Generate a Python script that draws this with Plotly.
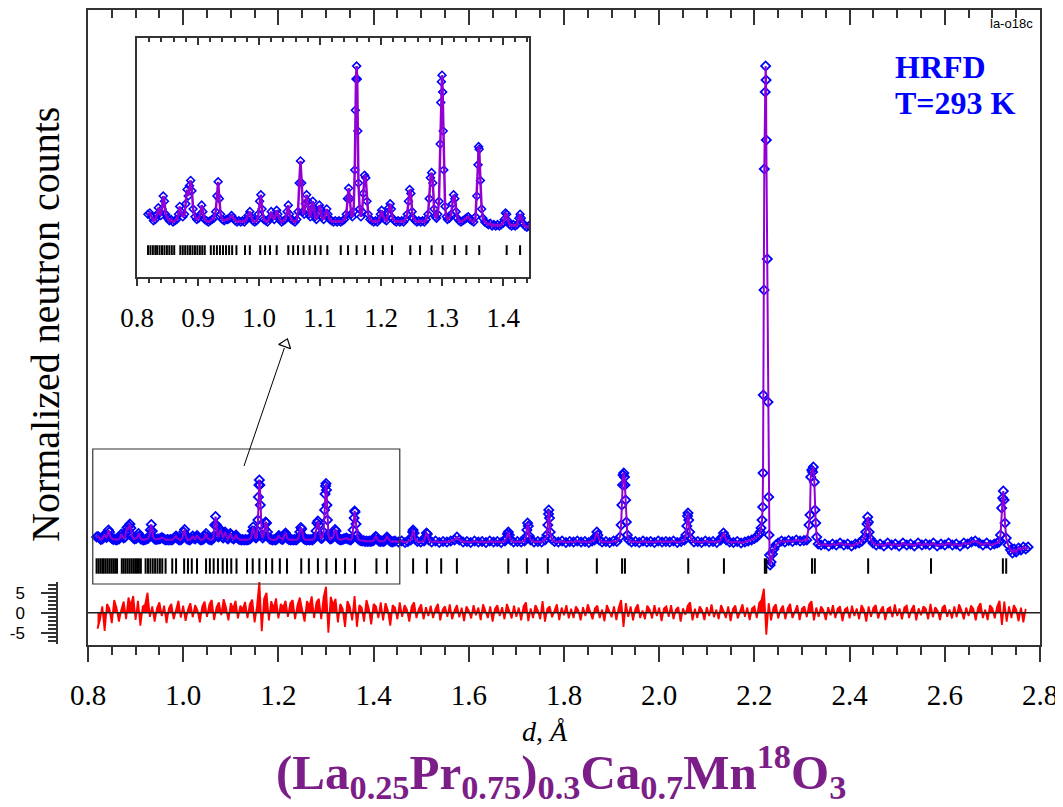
import plotly.graph_objects as go

W, H = 1063, 807
OFF = 8  # page body margin in the browser
def px(x): return (x - OFF) / W
def py(y): return 1 - (y - OFF) / H

# ---------------- data ----------------
# observed profile, low-d part: (d [Å], counts above background, arb. units)
obs_low = [(0.818,3.0),(0.821,3.5),(0.824,2.0),(0.827,0.5),(0.830,1.0),(0.833,3.0),(0.835,5.5),(0.837,3.5),(0.839,2.5),(0.841,5.0),(0.843,10.0),(0.845,8.0),(0.847,3.0),(0.850,1.5),(0.853,0.5),(0.856,1.0),(0.859,0.0),(0.862,0.5),(0.865,1.0),(0.868,3.0),(0.870,6.0),(0.872,4.0),(0.875,2.0),(0.878,3.0),(0.880,7.0),(0.882,12.5),(0.884,10.0),(0.886,14.0),(0.888,16.0),(0.890,12.0),(0.892,5.0),(0.895,2.0),(0.898,1.0),(0.901,1.5),(0.904,3.0),(0.906,6.5),(0.908,4.0),(0.911,1.0),(0.914,0.5),(0.917,0.0),(0.920,0.5),(0.923,1.0),(0.926,1.5),(0.929,4.0),(0.931,10.0),(0.933,15.5),(0.935,9.0),(0.937,3.0),(0.940,1.0),(0.943,0.5),(0.946,1.0),(0.949,1.0),(0.952,1.5),(0.955,2.5),(0.958,1.5),(0.961,0.5),(0.964,0.0),(0.967,0.5),(0.970,0.0),(0.973,0.5),(0.976,0.0),(0.979,1.0),(0.982,2.5),(0.985,4.0),(0.987,2.0),(0.990,0.5),(0.993,0.0),(0.996,0.5),(0.999,3.0),(1.001,8.0),(1.003,10.5),(1.005,5.0),(1.008,1.0),(1.011,0.5),(1.014,0.0),(1.017,1.5),(1.020,4.0),(1.022,2.0),(1.025,1.0),(1.027,2.5),(1.029,4.5),(1.031,3.0),(1.034,1.0),(1.037,0.0),(1.040,0.5),(1.043,1.0),(1.046,4.0),(1.048,6.5),(1.050,3.0),(1.053,1.0),(1.056,0.5),(1.059,0.0),(1.062,1.0),(1.064,4.0),(1.066,15.0),(1.068,23.5),(1.070,15.0),(1.072,4.0),(1.074,3.0),(1.076,7.0),(1.078,10.5),(1.080,8.0),(1.082,3.0),(1.084,2.0),(1.086,5.0),(1.088,8.0),(1.090,5.0),(1.092,2.0),(1.094,1.0),(1.097,3.0),(1.099,6.5),(1.101,5.0),(1.103,2.0),(1.106,1.0),(1.109,3.0),(1.111,5.0),(1.113,3.0),(1.116,1.0),(1.119,0.5),(1.122,0.0),(1.125,0.5),(1.128,0.0),(1.131,0.5),(1.134,0.0),(1.137,0.5),(1.140,1.0),(1.143,3.0),(1.145,9.0),(1.147,13.0),(1.149,9.0),(1.151,3.0),(1.153,2.0),(1.155,4.0),(1.157,20.0),(1.158,43.0),(1.159,55.0),(1.160,60.0),(1.161,55.0),(1.162,35.0),(1.163,15.0),(1.165,5.0),(1.167,2.0),(1.169,4.0),(1.171,11.0),(1.173,18.0),(1.175,17.0),(1.177,8.0),(1.179,3.0),(1.182,1.0),(1.185,0.5),(1.188,0.0),(1.191,0.5),(1.194,0.0),(1.197,1.0),(1.199,3.0),(1.201,4.5),(1.203,2.5),(1.206,1.0),(1.209,0.5),(1.211,3.0),(1.213,5.5),(1.215,7.0),(1.217,5.0),(1.219,1.5),(1.222,0.5),(1.225,0.0),(1.228,0.5),(1.231,0.0),(1.234,0.5),(1.237,0.0),(1.240,1.0),(1.243,3.0),(1.245,8.0),(1.247,12.5),(1.249,11.0),(1.251,4.0),(1.253,1.5),(1.256,0.5),(1.259,0.0),(1.262,0.5),(1.265,0.0),(1.268,0.5),(1.271,0.0),(1.274,1.0),(1.277,3.0),(1.279,9.0),(1.281,17.0),(1.283,19.0),(1.285,15.0),(1.287,5.0),(1.289,2.0),(1.291,1.5),(1.293,3.0),(1.295,8.0),(1.297,30.0),(1.298,46.0),(1.299,54.0),(1.300,56.5),(1.301,50.0),(1.302,35.0),(1.303,20.0),(1.305,6.0),(1.307,2.0),(1.309,1.0),(1.312,1.5),(1.315,3.0),(1.317,7.0),(1.319,10.5),(1.321,9.0),(1.323,4.0),(1.325,1.5),(1.328,0.5),(1.331,0.0),(1.334,0.5),(1.337,1.0),(1.340,1.5),(1.343,2.0),(1.346,1.0),(1.349,0.5),(1.352,0.0),(1.355,2.0),(1.357,10.0),(1.359,22.0),(1.360,29.0),(1.361,28.0),(1.363,16.0),(1.365,5.0),(1.367,1.5),(1.370,0.0),(1.373,-0.5),(1.376,-1.0),(1.379,-0.5),(1.382,-1.5),(1.385,-1.0),(1.388,-1.5),(1.391,-1.0),(1.394,-1.5),(1.397,-1.0),(1.400,-0.5),(1.402,1.0),(1.404,3.5),(1.406,3.0),(1.408,0.5),(1.411,-1.0),(1.414,-1.5),(1.417,-1.0),(1.420,-1.5),(1.423,-1.0),(1.426,1.5),(1.428,3.0),(1.430,1.5),(1.433,-0.5),(1.436,-1.5),(1.439,-2.0),(1.442,-1.5),(1.445,-1.0)]

# observed profile, high-d part
obs_high = [(1.452,-2.0),(1.459,-1.0),(1.466,-2.5),(1.472,-1.5),(1.478,0.0),(1.480,3.0),(1.482,8.0),(1.483,10.0),(1.485,7.0),(1.487,1.0),(1.492,-1.5),(1.499,-2.0),(1.506,-1.0),(1.509,3.0),(1.511,7.0),(1.513,6.0),(1.516,0.0),(1.522,-2.0),(1.530,-1.0),(1.538,-2.5),(1.546,-1.5),(1.554,-2.0),(1.562,-1.0),(1.570,0.0),(1.575,3.0),(1.580,0.0),(1.588,-2.0),(1.596,-1.5),(1.604,-2.5),(1.612,-1.0),(1.620,-2.0),(1.628,-1.5),(1.636,-2.5),(1.644,-1.0),(1.652,-2.0),(1.660,-1.5),(1.668,-2.5),(1.676,-1.0),(1.679,2.0),(1.681,6.0),(1.683,8.0),(1.685,5.0),(1.688,0.0),(1.694,-2.0),(1.702,-1.5),(1.710,-2.0),(1.717,-1.0),(1.720,3.0),(1.722,10.0),(1.7235,17.0),(1.725,14.0),(1.727,4.0),(1.730,0.0),(1.737,-2.0),(1.745,-1.5),(1.753,-2.0),(1.760,0.0),(1.764,5.0),(1.766,15.0),(1.7675,26.0),(1.768,30.0),(1.7695,22.0),(1.771,8.0),(1.774,1.0),(1.780,-1.5),(1.788,-2.0),(1.796,-1.0),(1.804,-2.5),(1.812,-1.5),(1.820,-2.0),(1.828,-1.0),(1.836,-2.0),(1.844,-1.5),(1.852,-2.5),(1.859,-1.0),(1.864,0.0),(1.866,3.0),(1.869,8.0),(1.871,5.0),(1.874,0.0),(1.880,-2.0),(1.888,-1.5),(1.896,-2.5),(1.904,-1.0),(1.911,-1.5),(1.9175,3.0),(1.920,15.0),(1.9215,35.0),(1.923,55.0),(1.924,65.0),(1.9255,67.0),(1.927,63.0),(1.928,55.0),(1.9295,40.0),(1.931,18.0),(1.933,5.0),(1.936,0.0),(1.942,-2.0),(1.950,-1.5),(1.958,-2.5),(1.966,-1.0),(1.974,-2.0),(1.982,-1.5),(1.990,-2.5),(1.998,-1.0),(2.006,-2.0),(2.014,-1.5),(2.022,-2.0),(2.030,-1.0),(2.038,-2.5),(2.046,-1.5),(2.053,0.0),(2.056,5.0),(2.058,14.0),(2.0595,24.0),(2.0605,27.0),(2.062,20.0),(2.064,8.0),(2.067,1.0),(2.073,-2.0),(2.081,-1.5),(2.089,-2.5),(2.097,-1.0),(2.105,-2.0),(2.113,-1.5),(2.121,-2.5),(2.129,0.0),(2.132,3.0),(2.135,7.0),(2.138,4.0),(2.141,0.0),(2.148,-2.0),(2.156,-2.5),(2.164,-1.5),(2.172,-3.0),(2.180,-2.0),(2.187,-1.0),(2.194,0.0),(2.200,1.5),(2.205,3.0),(2.209,5.0),(2.212,8.0),(2.214,12.0),(2.216,20.0),(2.2174,33.0),(2.2181,67.0),(2.2187,145.0),(2.2202,250.0),(2.2208,371.0),(2.2227,448.0),(2.2236,474.0),(2.2245,460.0),(2.2250,400.0),(2.2271,281.0),(2.2286,138.0),(2.2300,43.0),(2.2307,5.0),(2.2318,-15.0),(2.233,-25.0),(2.235,-22.0),(2.238,-14.0),(2.241,-9.0),(2.245,-5.0),(2.250,-3.0),(2.257,-1.0),(2.264,-2.0),(2.272,-0.5),(2.280,-1.5),(2.288,0.0),(2.296,-1.0),(2.304,-0.5),(2.310,0.0),(2.3147,15.0),(2.3168,25.0),(2.3183,63.0),(2.3205,70.0),(2.3222,68.0),(2.3238,73.0),(2.3259,58.0),(2.3273,30.0),(2.3288,17.0),(2.3309,3.0),(2.334,-4.0),(2.340,-5.0),(2.348,-4.0),(2.356,-6.0),(2.364,-4.0),(2.372,-5.0),(2.380,-3.0),(2.388,-5.0),(2.396,-4.0),(2.404,-6.0),(2.412,-4.0),(2.420,-3.0),(2.426,-1.0),(2.431,2.0),(2.434,8.0),(2.4365,16.0),(2.438,23.0),(2.4395,18.0),(2.441,8.0),(2.444,1.0),(2.449,-3.0),(2.456,-5.0),(2.464,-4.0),(2.472,-6.0),(2.480,-3.0),(2.488,-5.0),(2.496,-4.0),(2.504,-6.0),(2.512,-3.0),(2.520,-5.0),(2.528,-4.0),(2.536,-6.0),(2.544,-3.0),(2.552,-5.0),(2.560,-4.0),(2.568,-5.0),(2.576,-3.0),(2.584,-6.0),(2.592,-4.0),(2.600,-5.0),(2.608,-3.0),(2.616,-5.0),(2.624,-4.0),(2.632,-6.0),(2.640,-3.0),(2.648,-4.0),(2.656,-2.0),(2.664,-1.0),(2.672,-3.0),(2.680,-5.0),(2.688,-3.0),(2.696,-5.0),(2.704,-4.0),(2.710,-3.0),(2.714,-2.0),(2.717,5.0),(2.7194,32.0),(2.7216,42.0),(2.7229,49.0),(2.7245,40.0),(2.7265,17.0),(2.729,2.0),(2.733,-5.0),(2.738,-10.0),(2.742,-13.0),(2.746,-9.0),(2.750,-12.0),(2.755,-8.0),(2.760,-10.0),(2.765,-7.0),(2.770,-9.0),(2.775,-7.0)]

obs = obs_low + obs_high
obs_d = [p[0] for p in obs]
obs_I = [p[1] for p in obs]

# Bragg reflection positions (d, Å)
bragg_d = [0.818,0.822,0.826,0.830,0.833,0.837,0.841,0.845,0.849,0.853,0.857,0.861,
           0.871,0.875,0.879,0.883,0.887,0.891,0.895,0.899,0.903,0.907,0.911,
           0.921,0.926,0.931,0.936,0.941,0.946,0.951,0.956,0.963,
           0.977,0.985,1.002,1.010,1.018,1.029,1.048,1.056,1.064,1.073,1.083,1.092,1.101,1.112,
           1.134,1.146,1.160,1.174,1.187,1.203,1.218,1.248,1.264,1.283,1.301,1.321,1.340,1.361,
           1.406,1.428,1.483,1.512,1.542,1.575,1.683,1.722,1.766,1.869,1.922,1.928,2.061,2.136,
           2.222,2.225,2.321,2.327,2.439,2.571,2.722,2.729]

# difference curve (obs - calc), sampled every 0.005 Å from 0.82 Å
res_start, res_step = 0.82, 0.005
res_vals = [
 -4.0,-1.8,1.6,-4.5,2.2,1.0,-2.6,3.2,1.2,-2.2,0.8,2.8,-1.6,3.8,1.8,4.2,-1.8,3.0,-3.2,1.6,
 2.0,5.0,-1.0,1.6,-2.2,1.2,2.6,-0.8,1.8,-2.6,1.1,2.2,-1.6,1.0,3.0,-1.2,1.8,-2.0,0.8,2.4,
 -1.1,1.9,0.6,-2.4,1.6,2.8,-1.0,2.1,3.2,-1.8,1.4,2.6,-0.6,3.4,1.3,-1.9,2.4,1.0,3.0,-1.4,
 1.8,0.8,2.7,-1.3,2.2,3.3,-2.4,1.6,7.8,-4.6,3.6,5.0,-1.9,2.9,1.0,3.6,-1.4,2.2,1.3,3.0,
 -1.0,2.4,3.2,-1.6,1.9,3.8,0.8,-2.2,2.9,1.6,4.1,-1.3,2.6,3.5,-1.6,4.0,6.5,-5.0,4.0,1.9,
 3.5,-2.4,2.2,1.0,-3.5,2.9,1.6,-1.9,4.2,-3.5,1.9,1.3,-2.2,3.2,1.0,-2.9,2.2,1.6,-1.3,2.6,
 -1.9,2.4,0.6,-3.2,1.9,1.3,-1.6,2.6,-1.0,1.9,0.8,-2.2,1.6,2.6,-1.3,1.0,2.1,-1.6,1.4,-0.8,
 1.8,-1.3,1.0,2.2,-1.9,0.8,1.6,-1.0,2.1,-1.6,0.6,1.9,-1.1,1.3,-2.1,1.6,0.5,-1.4,1.9,-0.6,
 1.3,-1.8,2.1,0.3,-1.3,1.6,-2.2,1.0,1.9,-0.8,1.4,-1.6,2.2,0.5,-1.4,1.8,-1.0,1.3,-1.9,1.6,
 2.6,-2.1,1.1,-1.3,1.9,0.6,-1.6,2.9,-2.2,1.0,1.6,-1.1,0.8,2.1,-1.8,1.3,-0.6,1.9,-1.4,1.0,
 -1.3,1.6,0.6,-1.9,1.4,-0.8,2.1,0.3,-1.6,1.1,1.8,-1.3,0.8,-2.1,1.9,0.5,-1.1,1.6,-1.8,1.3,
 3.2,-3.5,2.4,-1.0,1.6,-1.9,1.0,2.1,-1.3,0.6,-1.6,1.8,0.8,-1.4,1.9,-0.8,1.3,-2.1,1.1,1.6,
 -1.0,1.9,-1.6,0.8,1.4,-2.2,1.1,-0.5,1.8,2.6,-1.9,1.0,-1.3,1.6,0.6,-1.8,1.4,-0.8,2.1,-1.1,
 0.8,-1.6,1.9,0.5,-1.3,1.6,-2.1,1.0,1.8,-1.4,0.6,2.1,-1.0,1.3,-1.8,1.1,1.6,-1.3,2.4,3.2,
 6.0,-5.5,2.4,-1.9,1.3,2.1,-1.4,0.8,1.8,-1.6,1.1,2.2,-1.3,0.5,1.9,-1.8,1.0,1.6,-1.1,2.1,
 2.9,-1.9,1.3,-1.0,1.6,0.6,-1.8,1.4,-0.6,1.9,-1.3,1.0,1.6,-2.1,0.8,1.3,-1.4,1.8,-0.8,1.1,
 -1.6,1.9,0.8,-2.2,1.6,-1.0,1.3,1.9,-1.4,0.6,1.6,-1.8,1.0,1.4,-1.1,2.1,-0.8,1.1,-1.6,1.3,
 1.8,-1.3,0.8,1.9,-1.9,1.1,-0.6,1.6,1.0,-1.6,2.2,-1.1,1.4,0.5,-1.8,1.3,1.9,-1.0,0.8,-1.4,
 1.6,-1.1,2.1,0.6,-1.6,1.3,-0.8,1.8,1.0,-1.9,1.4,2.4,-1.3,0.8,-1.8,1.9,1.1,-1.4,1.6,3.0,
 -3.0,2.8,-2.2,1.6,-1.3,1.9,0.8,-2.1,1.3,-2.4,1.0]
res_d = [round(res_start + i * res_step, 4) for i in range(len(res_vals))]

# ---------------- styling ----------------
SERIF = "Liberation Serif"
SANS = "Liberation Sans"
AX = "#333333"
BLUE = "#0000FF"
PURPLE = "#9400D3"

BRAGG_MAIN = -26     # level of reflection bars in the main panel
BRAGG_INSET = -10.8  # level of reflection bars in the inset

fig = go.Figure()

# main panel
fig.add_trace(go.Scatter(x=obs_d, y=obs_I, mode="markers", xaxis="x", yaxis="y",
                         marker=dict(symbol="diamond-open", size=7, color=BLUE, line=dict(width=1.8, color=BLUE)),
                         showlegend=False, hoverinfo="skip"))
fig.add_trace(go.Scatter(x=obs_d, y=obs_I, mode="lines", xaxis="x", yaxis="y",
                         line=dict(color=PURPLE, width=2), showlegend=False, hoverinfo="skip"))
fig.add_trace(go.Scatter(x=bragg_d, y=[BRAGG_MAIN] * len(bragg_d), mode="markers", xaxis="x2", yaxis="y",
                         marker=dict(symbol="line-ns", size=11, line=dict(width=2, color="black")),
                         showlegend=False, hoverinfo="skip"))
# difference curve
fig.add_trace(go.Scatter(x=res_d, y=res_vals, mode="lines", xaxis="x3", yaxis="y2",
                         line=dict(color="#FF0000", width=1.8), fill="tozeroy", fillcolor="#FF0000",
                         showlegend=False, hoverinfo="skip"))
# inset
fig.add_trace(go.Scatter(x=obs_d, y=obs_I, mode="markers", xaxis="x4", yaxis="y3",
                         marker=dict(symbol="diamond-open", size=6, color=BLUE, line=dict(width=1.6, color=BLUE)),
                         showlegend=False, hoverinfo="skip"))
fig.add_trace(go.Scatter(x=obs_d, y=obs_I, mode="lines", xaxis="x4", yaxis="y3",
                         line=dict(color=PURPLE, width=2.5), showlegend=False, hoverinfo="skip"))
fig.add_trace(go.Scatter(x=bragg_d, y=[BRAGG_INSET] * len(bragg_d), mode="markers", xaxis="x5", yaxis="y3",
                         marker=dict(symbol="line-ns", size=7, line=dict(width=2, color="black")),
                         showlegend=False, hoverinfo="skip"))

tick_common = dict(showgrid=False, zeroline=False, showline=True, linecolor=AX, linewidth=1.5,
                   tickcolor=AX, tickwidth=1.5, automargin=False)

main_dom = [px(88), px(1040)]
inset_dom = [px(137), px(529)]

fig.update_layout(
    template="none",
    width=W, height=H, autosize=False,
    margin=dict(l=0, r=0, t=0, b=0, pad=0),
    paper_bgcolor="white", plot_bgcolor="white",
    xaxis=dict(domain=main_dom, range=[0.8, 2.8], anchor="y", side="bottom",
               ticks="outside", ticklen=15, tick0=0.8, dtick=0.2, tickformat=".1f",
               minor=dict(dtick=0.05, tick0=0.8, ticks="outside", ticklen=8, tickcolor=AX, tickwidth=1.5),
               tickfont=dict(family=SERIF, size=29, color="black"), ticklabelstandoff=8,
               **tick_common),
    xaxis2=dict(overlaying="x", side="top", anchor="y", range=[0.8, 2.8],
                ticks="inside", ticklen=15, tick0=0.8, dtick=0.2, showticklabels=False,
                minor=dict(dtick=0.05, tick0=0.8, ticks="inside", ticklen=8, tickcolor=AX, tickwidth=1.5),
                **tick_common),
    yaxis=dict(domain=[py(645), py(10)], range=[-105, 530], anchor="x",
               showline=True, mirror=True, linecolor=AX, linewidth=1.5, ticks="",
               showticklabels=False, showgrid=False, zeroline=False, automargin=False),
    xaxis3=dict(domain=main_dom, range=[0.8, 2.8], anchor="y2", visible=False, automargin=False),
    yaxis2=dict(domain=[py(644), py(582)], range=[-7.8, 7.7], anchor="free", position=px(57),
                ticks="outside", ticklen=15, tickvals=[-5, 0, 5], ticktext=["-5", "0", "5"],
                minor=dict(dtick=1, tick0=0, ticks="outside", ticklen=8, tickcolor=AX, tickwidth=1.5),
                tickfont=dict(family=SANS, size=17, color="black"), ticklabelstandoff=13,
                **tick_common),
    xaxis4=dict(domain=inset_dom, range=[0.8, 1.4426], anchor="y3", side="bottom",
                ticks="outside", ticklen=7, tick0=0.8, dtick=0.1, tickformat=".1f",
                minor=dict(dtick=0.02, tick0=0.8, ticks="outside", ticklen=4, tickcolor=AX, tickwidth=1.5),
                tickfont=dict(family=SERIF, size=27, color="black"), ticklabelstandoff=9,
                **tick_common),
    xaxis5=dict(overlaying="x4", side="top", anchor="y3", range=[0.8, 1.4426],
                ticks="inside", ticklen=7, tick0=0.8, dtick=0.1, showticklabels=False,
                minor=dict(dtick=0.02, tick0=0.8, ticks="inside", ticklen=4, tickcolor=AX, tickwidth=1.5),
                **tick_common),
    yaxis3=dict(domain=[py(277), py(38)], range=[-21.15, 70.8], anchor="x4",
                showline=True, mirror=True, linecolor=AX, linewidth=1.5, ticks="",
                showticklabels=False, showgrid=False, zeroline=False, automargin=False),
)

# zero line of the difference curve
fig.add_shape(type="line", xref="paper", yref="y2", x0=px(88), x1=px(1040), y0=0, y1=0,
              line=dict(color="#222222", width=1.5))
# zoom frame in the main panel
fig.add_shape(type="rect", xref="x", yref="y", x0=0.81, x1=1.455, y0=-44, y1=91,
              line=dict(color=AX, width=1.2))
# arrow to the inset
fig.add_shape(type="line", xref="x", yref="y", x0=1.1277, y0=74, x1=1.2125, y1=192,
              line=dict(color="black", width=1))
fig.add_trace(go.Scatter(x=[1.2150], y=[196], mode="markers", xaxis="x", yaxis="y",
                         marker=dict(symbol="triangle-up-open", size=11, angle=20, color="black",
                                     line=dict(width=1.2, color="black")),
                         showlegend=False, hoverinfo="skip"))

ann = [
    dict(text="Normalized neutron counts", x=px(45), y=py(325), textangle=-90,
         font=dict(family=SERIF, size=40, color="black")),
    dict(text="<i>d</i>, <i>Å</i>", x=px(545), y=py(731),
         font=dict(family=SERIF, size=28, color="black")),
    dict(text="<b>(La<sub>0.25</sub>Pr<sub>0.75</sub>)<sub>0.3</sub>Ca<sub>0.7</sub>Mn<sup>18</sup>O<sub>3</sub></b>",
         x=px(561), y=py(807), yanchor="bottom", borderpad=0,
         font=dict(family=SERIF, size=49, color="#7B1E87")),
    dict(text="<b>HRFD</b>", x=px(893), y=py(67), xanchor="left",
         font=dict(family=SERIF, size=32, color=BLUE)),
    dict(text="<b>T=293 K</b>", x=px(893), y=py(103), xanchor="left",
         font=dict(family=SERIF, size=32, color=BLUE)),
    dict(text="la-o18c", x=px(1035), y=py(24), xanchor="right",
         font=dict(family=SANS, size=13, color="black")),
]
for a in ann:
    a.setdefault("xanchor", "center")
    a.setdefault("yanchor", "middle")
    fig.add_annotation(xref="paper", yref="paper", showarrow=False, **a)

fig.write_html("out.html")
